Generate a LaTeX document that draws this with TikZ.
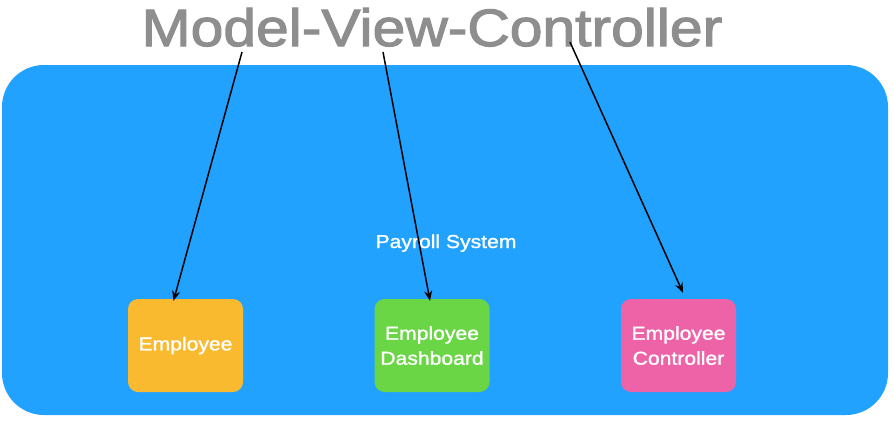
\documentclass[tikz,border=0pt]{standalone}
\usepackage{fontspec}
\setmainfont{Liberation Sans}
\newfontfamily\widesans[FakeStretch=1.13,FakeBold=1.3]{Liberation Sans}
\newfontfamily\widetitle[FakeStretch=1.12,FakeBold=2.2]{Liberation Sans}
\usetikzlibrary{arrows.meta}
\definecolor{sysblue}{RGB}{33,162,255}
\definecolor{modelorange}{RGB}{249,186,48}
\definecolor{viewgreen}{RGB}{106,214,70}
\definecolor{ctrlpink}{RGB}{238,99,168}
\definecolor{titlegray}{RGB}{142,142,142}
\tikzset{
  part/.style={rounded corners=10pt, minimum width=115pt, minimum height=93pt,
    inner sep=0pt, text=white, align=center,
    font=\widesans\fontsize{18.7}{25}\selectfont},
  link/.style={draw=black, line width=1.5pt, -{Stealth[length=10pt,width=8pt]}},
}
\begin{document}
\begin{tikzpicture}[x=1pt,y=-1pt]
\useasboundingbox (0,0) rectangle (893,423);
\fill[white] (0,0) rectangle (893,423);
\node[fill=sysblue, rounded corners=42pt, minimum width=886pt, minimum height=350pt, inner sep=0pt] (sys) at (445,240) {};
\node[anchor=base, text=titlegray, font=\widetitle\fontsize{52.5}{60}\selectfont, inner sep=0pt] (title) at (432,46) {Model-View-Controller};
\node[anchor=base, text=white, font=\widesans\fontsize{18.7}{22}\selectfont, inner sep=0pt] (payroll) at (446,248) {Payroll System};
\node[part, fill=modelorange] (emp) at (185.5,345.5) {Employee};
\node[part, fill=viewgreen] (dash) at (432,345.5) {Employee\\Dashboard};
\node[part, fill=ctrlpink] (ctrl) at (678.5,345.5) {Employee\\Controller};
\coordinate (m) at (242,52);
\coordinate (v) at (383,52);
\coordinate (c) at (570,42);
\draw[link] (m) -- ([xshift=-12pt,yshift=-2pt]emp.north);
\draw[link] (v) -- ([xshift=-2pt,yshift=-2pt]dash.north);
\draw[link] (c) -- ([xshift=4.5pt,yshift=6pt]ctrl.north);
\end{tikzpicture}
\end{document}
